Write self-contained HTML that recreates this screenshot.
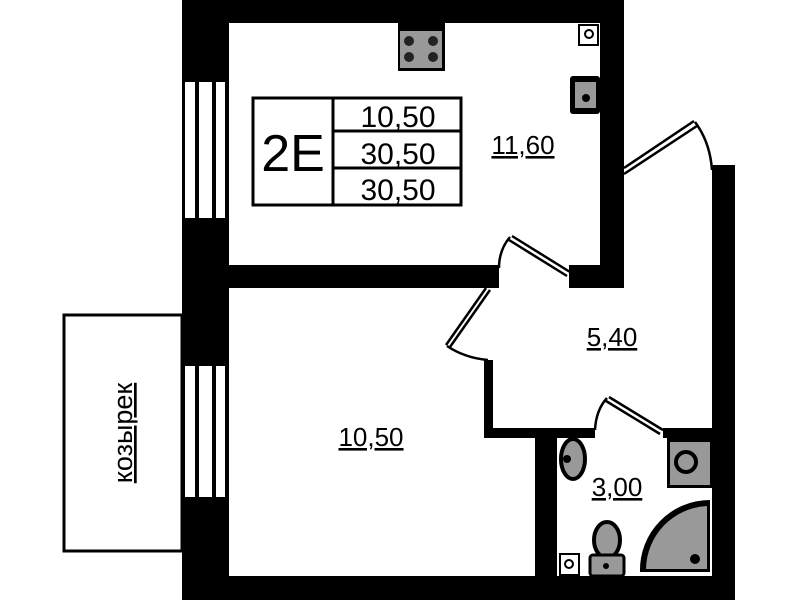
<!DOCTYPE html>
<html><head><meta charset="utf-8"><style>
html,body{margin:0;padding:0;background:#fff;}
svg{display:block;}
text{font-family:"Liberation Sans",sans-serif;}
</style></head><body>
<svg width="799" height="600" viewBox="0 0 799 600" xmlns="http://www.w3.org/2000/svg">
<rect width="799" height="600" fill="#fff"/>
<g fill="#000">
  <rect x="182" y="0" width="442" height="23"/>
  <rect x="182" y="0" width="47" height="600"/>
  <rect x="600" y="0" width="24" height="288"/>
  <rect x="229" y="265" width="270" height="23"/>
  <rect x="569" y="265" width="55" height="23"/>
  <rect x="182" y="576" width="553" height="24"/>
  <rect x="712" y="165" width="23" height="435"/>
  <rect x="484" y="360" width="9" height="78"/>
  <rect x="484" y="428" width="111" height="10"/>
  <rect x="663" y="428" width="49" height="10"/>
  <rect x="535" y="428" width="22" height="150"/>
</g>
<g fill="#fff">
  <rect x="185" y="82" width="10" height="136"/>
  <rect x="199" y="82" width="13" height="136"/>
  <rect x="216" y="82" width="9" height="136"/>
  <rect x="185" y="366" width="10" height="131"/>
  <rect x="199" y="366" width="13" height="131"/>
  <rect x="216" y="366" width="9" height="131"/>
</g>
<rect x="64" y="315" width="118" height="236" fill="#fff" stroke="#000" stroke-width="3"/>
<text transform="translate(132,433) rotate(-90)" font-size="27" text-anchor="middle" text-decoration="underline">козырек</text>
<g fill="none" stroke="#000" stroke-width="3">
  <rect x="253" y="98" width="208" height="107"/>
  <line x1="333" y1="98" x2="333" y2="205"/>
  <line x1="333" y1="131" x2="461" y2="131"/>
  <line x1="333" y1="168" x2="461" y2="168"/>
</g>
<text x="293" y="171" font-size="52" text-anchor="middle">2E</text>
<text x="398" y="127" font-size="30" text-anchor="middle">10,50</text>
<text x="398" y="164" font-size="30" text-anchor="middle">30,50</text>
<text x="398" y="200" font-size="30" text-anchor="middle">30,50</text>
<g font-size="26" text-anchor="middle" text-decoration="underline">
<text x="523" y="154">11,60</text>
<text x="612" y="346">5,40</text>
<text x="371" y="446">10,50</text>
<text x="617" y="496">3,00</text>
</g>
<rect x="398" y="23" width="47" height="48" fill="#000"/>
<rect x="400" y="31" width="42" height="37" fill="#999"/>
<g fill="#222"><circle cx="409" cy="41" r="5"/><circle cx="433" cy="41" r="5"/><circle cx="409" cy="57" r="5"/><circle cx="433" cy="57" r="5"/></g>
<rect x="579" y="25" width="19" height="20" fill="#fff" stroke="#000" stroke-width="2"/>
<circle cx="589" cy="34" r="4" fill="none" stroke="#000" stroke-width="2"/>
<rect x="570" y="76" width="30" height="38" rx="3" fill="#000"/>
<rect x="575" y="82" width="21" height="26" fill="#999"/>
<circle cx="586" cy="98" r="4" fill="#000"/>
<g fill="none" stroke="#000" stroke-width="2.5">
  <path d="M570 272 L512 236 M567 276 L509 240"/>
  <path d="M510 237 Q499 250 499 268"/>
  <path d="M486 288 L446 345 M490 290 L450 347"/>
  <path d="M447 346 Q465 358 488 360"/>
  <path d="M663 430 L609 397 M660 434 L606 401"/>
  <path d="M607 398 Q596 410 595 430"/>
  <path d="M624 168 L694 121 M624 174 L697 126"/>
  <path d="M695 122 Q710 142 712 170"/>
</g>
<ellipse cx="573" cy="459" rx="12" ry="20" fill="#999" stroke="#000" stroke-width="4"/>
<circle cx="567" cy="459" r="4" fill="#000"/>
<rect x="667" y="438" width="45" height="50" fill="#000"/>
<rect x="670" y="442" width="40" height="43" fill="#999"/>
<circle cx="686" cy="462" r="10" fill="#999" stroke="#000" stroke-width="4"/>
<path d="M710 500 A70 70 0 0 0 640 572 L710 572 Z" fill="#000"/>
<path d="M707 506 A64 64 0 0 0 646 569 L707 569 Z" fill="#999"/>
<circle cx="695" cy="559" r="5" fill="#000"/>
<ellipse cx="607" cy="540" rx="13" ry="18" fill="#999" stroke="#000" stroke-width="4"/>
<rect x="590" y="555" width="34" height="21" rx="3" fill="#999" stroke="#000" stroke-width="3"/>
<circle cx="606" cy="566" r="3" fill="#000"/>
<rect x="560" y="554" width="19" height="21" fill="#fff" stroke="#000" stroke-width="2"/>
<circle cx="569" cy="564" r="4" fill="none" stroke="#000" stroke-width="2"/>
</svg>
</body></html>
